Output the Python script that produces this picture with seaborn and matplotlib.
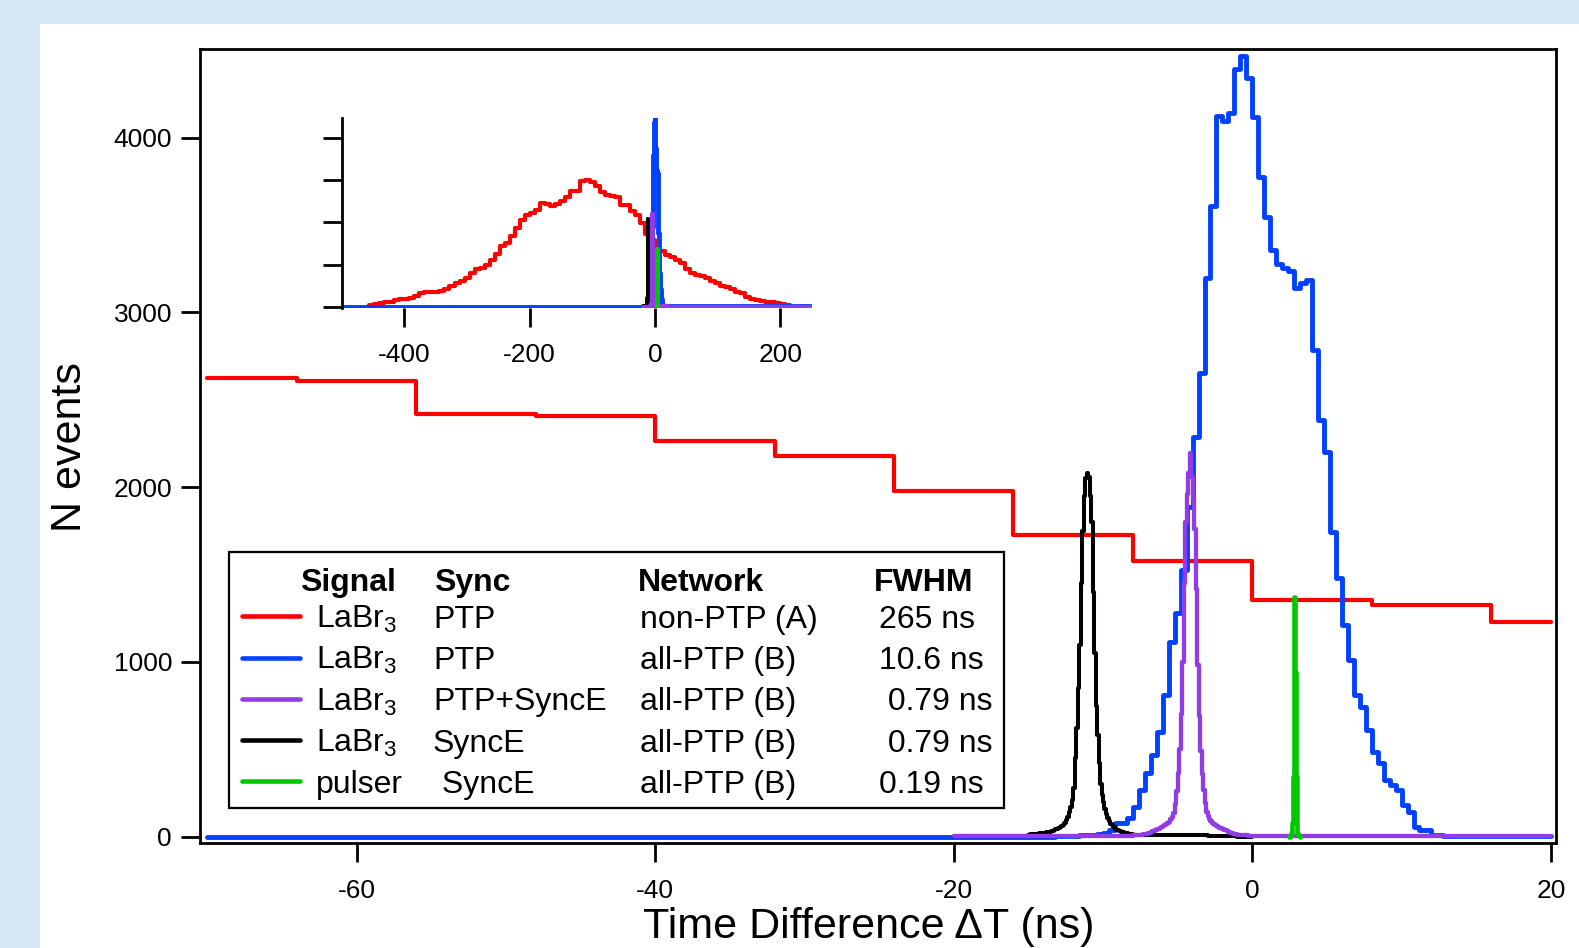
import numpy as np
import matplotlib
matplotlib.use("Agg")
import matplotlib.pyplot as plt
from matplotlib.patches import Rectangle
from matplotlib.lines import Line2D
import seaborn as sns

# ---- data (counts per bin) ----
# LaBr3 PTP, non-PTP network (A): 8 ns bins starting at -456 ns
red_start, red_width = -456, 8
red_counts = [40, 70, 80, 100, 120, 150, 180, 190, 210, 260,
              325, 350, 355, 360, 380, 430, 500, 560, 600, 690,
              800, 900, 930, 1000, 1120, 1260, 1430, 1520, 1680, 1870,
              2050, 2185, 2225, 2305, 2460, 2450, 2400, 2450, 2500, 2605,
              2740, 2740, 2980, 3000, 2955, 2875, 2715, 2650, 2627, 2610,
              2419, 2408, 2264, 2177, 1976, 1728, 1578, 1353, 1325, 1227,
              1180, 1120, 1040, 900, 800, 760, 720, 680, 600, 560,
              500, 470, 420, 360, 320, 240, 180, 150, 130, 110,
              100, 80, 70, 50]

# LaBr3 PTP, all-PTP network (B): 0.4 ns bins from -13.2 ns, zero/flat outside
blue_start, blue_width = -13.2, 0.4
blue_counts = [3, 4, 5, 6, 8, 10, 12, 16, 22, 40,
               76, 80, 105, 172, 267, 363, 467, 601, 811, 1116,
               1282, 1526, 1888, 2290, 2655, 3195, 3611, 4124, 4096, 4143,
               4391, 4467, 4340, 4117, 3777, 3548, 3357, 3277, 3253, 3237,
               3138, 3167, 3186, 2785, 2385, 2203, 1745, 1479, 1211, 1011,
               811, 744, 611, 486, 420, 324, 296, 267, 181, 143,
               57, 38, 38, 10, 8, 6]
blue_range = (-500, 250)
blue_outside = (0, 5)

# LaBr3 SyncE: 0.1 ns bins from -15 to -7 ns, coarse bins around
black_start, black_width = -15.0, 0.1
black_counts = [12, 13, 14, 15, 16, 17, 18, 19, 19, 20,
                21, 23, 25, 27, 29, 32, 35, 38, 42, 46,
                50, 56, 62, 70, 80, 95, 115, 140, 170, 210,
                280, 450, 620, 850, 1100, 1450, 1750, 1950, 2050, 2083,
                2060, 1950, 1800, 1400, 1050, 750, 580, 420, 300, 240,
                200, 160, 130, 110, 90, 75, 65, 55, 47, 40,
                36, 32, 29, 26, 23, 21, 19, 17, 15, 13,
                12, 11, 10, 10, 9, 9, 8, 8, 8, 8]
black_left_edges, black_left_counts = [-20], [5]
black_right_edges, black_right_counts = [-6, -5, -4, -3, -2, -1, 0], [8, 12, 12, 10, 6, 2, 0]

# LaBr3 PTP+SyncE: 0.1 ns bins from -8 to -0.3 ns, coarse bins around
purple_start, purple_width = -8.0, 0.1
purple_counts = [8, 8, 8, 9, 10, 11, 12, 13, 15, 17,
                 19, 22, 26, 30, 34, 38, 42, 46, 50, 55,
                 60, 67, 72, 77, 85, 100, 115, 134, 190, 260,
                 363, 500, 700, 1000, 1450, 1800, 1960, 2080, 2194, 2060,
                 1930, 1760, 1420, 980, 690, 490, 360, 265, 195, 140,
                 118, 100, 88, 78, 72, 66, 60, 56, 52, 48,
                 44, 40, 36, 32, 28, 24, 20, 18, 16, 14,
                 12, 11, 10, 9, 8, 8, 8]
purple_left_edges, purple_left_counts = [-20, -14], [2, 4]
purple_right_edges, purple_right_counts = [2, 20, 250], [6, 5, 4]

# pulser SyncE: 0.05 ns bins
green_start, green_width = 2.475, 0.05
green_counts = [0, 5, 10, 20, 77, 343, 944, 1374, 944, 343, 77, 20, 10, 5, 0]

# table in the legend box
legend_signal = ["LaBr$_\\mathregular{3}$"] * 4 + ["pulser"]
legend_sync = ["PTP", "PTP", "PTP+SyncE", "SyncE", " SyncE"]
legend_network = ["non-PTP (A)", "all-PTP (B)", "all-PTP (B)", "all-PTP (B)", "all-PTP (B)"]
legend_fwhm = ["265 ns", "10.6 ns", " 0.79 ns", " 0.79 ns", "0.19 ns"]
legend_header = ["Signal", "Sync", "Network", "FWHM"]

xticks_main = [-60, -40, -20, 0, 20]
yticks_main = [0, 1000, 2000, 3000, 4000]
xticks_inset = [-400, -200, 0, 200]


def regular_edges(start, width, n):
    return start + width * np.arange(n + 1)


red_edges = regular_edges(red_start, red_width, len(red_counts))
blue_edges = np.concatenate([[blue_range[0]], regular_edges(blue_start, blue_width, len(blue_counts)), [blue_range[1]]])
blue_all = [blue_outside[0]] + blue_counts + [blue_outside[1]]
black_edges = np.concatenate([black_left_edges, regular_edges(black_start, black_width, len(black_counts)), black_right_edges])
black_all = black_left_counts + black_counts + black_right_counts
purple_edges = np.concatenate([purple_left_edges, regular_edges(purple_start, purple_width, len(purple_counts)), purple_right_edges])
purple_all = purple_left_counts + purple_counts + purple_right_counts
green_edges = regular_edges(green_start, green_width, len(green_counts))

# drawing order: red, blue, black, purple, green
series = [
    (red_edges, red_counts, "#ff0000", 3.0),
    (blue_edges, blue_all, "#0040ff", 3.5),
    (black_edges, black_all, "#000000", 2.9),
    (purple_edges, purple_all, "#913ce6", 3.1),
    (green_edges, green_counts, "#00c800", 3.3),
]
legend_colors = ["#ff0000", "#0040ff", "#913ce6", "#000000", "#00c800"]


def clip_bins(edges, counts, lo, hi):
    edges = np.asarray(edges, dtype=float)
    counts = np.asarray(counts, dtype=float)
    keep = (edges[1:] > lo) & (edges[:-1] < hi)
    left = np.clip(edges[:-1][keep], lo, hi)
    right = np.clip(edges[1:][keep], lo, hi)
    return np.append(left, right[-1]), counts[keep]


def draw_hist(ax, edges, counts, color, lw, lo, hi):
    # step outline of a histogram: edges on x, count held until next edge
    e, c = clip_bins(edges, counts, lo, hi)
    sns.lineplot(x=e, y=np.append(c, c[-1]), drawstyle="steps-post",
                 estimator=None, sort=False, color=color, linewidth=lw, ax=ax)


# ---- style ----
sns.set_style("ticks", {"axes.edgecolor": "black", "xtick.color": "black",
                        "ytick.color": "black", "text.color": "black",
                        "axes.labelcolor": "black"})
plt.rcParams["font.family"] = ["Liberation Sans", "DejaVu Sans"]
plt.rcParams["axes.linewidth"] = 2
plt.rcParams["axes.unicode_minus"] = False

fig = plt.figure(figsize=(15.79, 9.48), dpi=100)
fig.patch.set_facecolor("#d7e6f5")
fig.add_artist(Rectangle((40 / 1579, 0), 1 - 40 / 1579, (948 - 24) / 948,
                         transform=fig.transFigure, facecolor="white",
                         edgecolor="none", zorder=-1))

# ---- main axes ----
ax = fig.add_axes([0.1267, 0.1111, 0.8588, 0.8369])
ax.set_facecolor("white")
for edges, counts, color, lw in series:
    draw_hist(ax, edges, counts, color, lw, -70, 20)

ax.set_xlim(-70.48, 20.35)
ax.set_ylim(-34, 4506)
ax.set_xticks(xticks_main)
ax.set_yticks(yticks_main)
ax.tick_params(axis="both", direction="out", length=13.7, width=2,
               labelsize=19, top=False, right=False)
ax.tick_params(axis="x", pad=12.5)
ax.tick_params(axis="y", pad=6.5)
for sp in ax.spines.values():
    sp.set_visible(True)
    sp.set_linewidth(2)
ax.set_xlabel("Time Difference \u0394T (ns)", fontsize=31)
ax.set_ylabel("N events", fontsize=31)
ax.xaxis.set_label_coords(0.4934, -0.0815)
ax.yaxis.set_label_coords(-0.0814, 0.4987)

# ---- legend table ----
ax.add_patch(Rectangle((0.0211, 0.0442), 0.5718, 0.3225, transform=ax.transAxes,
                       facecolor="white", edgecolor="black", linewidth=1.6, zorder=5))
header_x = [0.0737, 0.1726, 0.3230, 0.4971]
col_x = [0.0857, 0.1718, 0.3245, 0.5007]
for x, h in zip(header_x, legend_header):
    ax.text(x, 0.3166, h, transform=ax.transAxes, fontsize=23, fontweight="bold",
            va="baseline", ha="left", zorder=6)
row_base = [0.2709, 0.2188, 0.1667, 0.1148, 0.0628]
row_mid = [0.2853, 0.2333, 0.1812, 0.1293, 0.0773]
for i in range(5):
    ax.add_line(Line2D([0.0308, 0.0737], [row_mid[i], row_mid[i]], transform=ax.transAxes,
                       color=legend_colors[i], linewidth=3.3, zorder=6))
    for x, t in zip(col_x, [legend_signal[i], legend_sync[i], legend_network[i], legend_fwhm[i]]):
        ax.text(x, row_base[i], t, transform=ax.transAxes, fontsize=23,
                va="baseline", ha="left", zorder=6)

# ---- inset ----
axin = fig.add_axes([0.2164, 0.6747, 0.2977, 0.2008])
axin.patch.set_alpha(0)
for edges, counts, color, lw in series:
    draw_hist(axin, edges, counts, color, lw, -500, 250)
axin.set_xlim(-500, 250)
axin.set_ylim(-40, 4480)
axin.set_xticks(xticks_inset)
axin.set_yticks(yticks_main)
axin.set_yticklabels([])
axin.set_xlabel("")
axin.set_ylabel("")
axin.tick_params(axis="both", direction="out", length=13.7, width=2, labelsize=19)
axin.tick_params(axis="x", pad=11)
for side in ["top", "right", "bottom"]:
    axin.spines[side].set_visible(False)
axin.spines["left"].set_linewidth(2)

fig.savefig("out.png", dpi=100, facecolor=fig.get_facecolor())
